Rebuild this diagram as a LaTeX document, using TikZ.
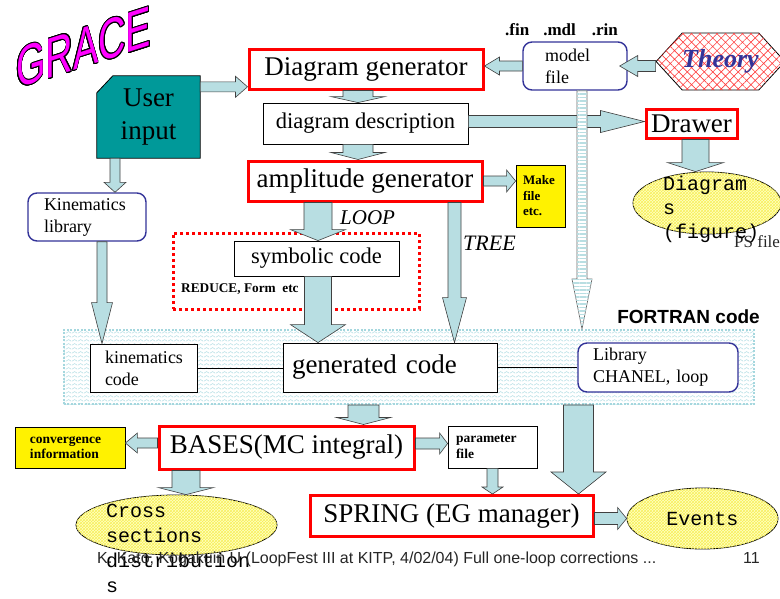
\documentclass[tikz,border=0pt]{standalone}
\usepackage{fontspec}
\setmainfont{Liberation Serif}
\setsansfont{Liberation Sans}
\setmonofont{Liberation Mono}
\usepackage{contour}
\contourlength{0.7pt}
\usetikzlibrary{calc,patterns,patterns.meta,shapes.geometric,shapes.symbols,backgrounds}

\definecolor{arrowblue}{RGB}{184,222,226}
\definecolor{teal2}{RGB}{0,153,153}
\definecolor{navy2}{RGB}{51,51,153}
\definecolor{lyellow}{RGB}{255,255,195}
\definecolor{ygrid}{RGB}{248,240,90}
\definecolor{zigblue}{RGB}{165,215,222}
\definecolor{magenta2}{RGB}{255,0,255}

\pgfdeclarepatternformonly{zigzag}{\pgfqpoint{0pt}{0pt}}{\pgfqpoint{6pt}{4pt}}{\pgfqpoint{6pt}{4pt}}{%
  \pgfsetlinewidth{0.5pt}%
  \pgfpathmoveto{\pgfqpoint{0pt}{1pt}}%
  \pgfpathlineto{\pgfqpoint{3pt}{3pt}}%
  \pgfpathlineto{\pgfqpoint{6pt}{1pt}}%
  \pgfusepath{stroke}}

% block arrow: [opts]{from}{to}{shaft half width}{head half width}{head length}
\newcommand\barrow[6][]{%
  \path[barrowst,#1] let \p1=#2, \p2=#3,
    \n1={atan2(\y2-\y1,\x2-\x1)}, \n2={veclen(\x2-\x1,\y2-\y1)} in
    {[shift={(\p1)},rotate=\n1]
      (0pt,{-#4pt}) -- ({(\n2-#6)*1pt},{-#4pt}) -- ({(\n2-#6)*1pt},{-#5pt})
      -- ({\n2*1pt},0pt) -- ({(\n2-#6)*1pt},{#5pt}) -- ({(\n2-#6)*1pt},{#4pt})
      -- (0pt,{#4pt}) -- cycle};}

\begin{document}
\begin{tikzpicture}[x=1pt,y=-1pt,
  barrowst/.style={fill=arrowblue, draw=black!75, line width=0.6pt},
  redbox/.style={draw=red, line width=3pt, fill=white, inner sep=0pt},
  blkbox/.style={draw=black, line width=0.8pt, fill=white, inner sep=0pt},
  bluebox/.style={draw=navy2, line width=1.4pt, rounded corners=9pt, fill=white, inner sep=0pt},
  ylwbox/.style={draw=black, line width=0.8pt, fill=yellow, inner sep=0pt},
  big/.style={font=\fontsize{27}{30}\selectfont},
  mid/.style={font=\fontsize{22.5}{26}\selectfont},
  smalltxt/.style={font=\fontsize{18}{22}\selectfont},
  tinyb/.style={font=\bfseries\fontsize{13.5}{15.5}\selectfont},
  monotxt/.style={font=\ttfamily\fontsize{20}{24}\selectfont},
  ell/.style={ellipse, draw=black, line width=0.8pt, fill=lyellow,
    postaction={pattern=crosshatch, pattern color=ygrid}, inner sep=0pt},
  lbl/.style={anchor=base west, inner sep=0pt},
  conn/.style={draw=black, line width=0.8pt}]

\begin{scope}[on background layer]
  \fill[white] (0,0) rectangle (780,598);
\end{scope}
\useasboundingbox (0,0) rectangle (780,598);

% GRACE logo
\begin{scope}[shift={(16,89)}, yslant=0.32]
  \node[transform shape, anchor=base west, inner sep=0pt, yscale=1.5,
    font=\sffamily\fontsize{38}{40}\selectfont] (grace) at (0,0)
    {\textcolor{magenta2}{\contour{black}{GRACE}}};
\end{scope}

% FORTRAN region
\node[draw=zigblue, line width=2pt, dash pattern=on 2pt off 1.5pt, fill=white,
  postaction={pattern=zigzag, pattern color=zigblue},
  minimum width=690pt, minimum height=74pt, inner sep=0pt] (ft) at (408.5,367) {};
\node[font=\sffamily\bfseries\fontsize{19}{22}\selectfont, anchor=base east, inner sep=0pt]
  (ftl) at (760,323) {FORTRAN code};

% red dotted loop box
\node[draw=red, line width=3pt, dash pattern=on 3pt off 3pt,
  minimum width=246pt, minimum height=76pt, inner sep=0pt] (lb) at (296,271) {};

% main boxes
\node[redbox, big, minimum width=234pt, minimum height=40pt] (dg) at (366,69) {Diagram generator};
\node[blkbox, mid, minimum width=205pt, minimum height=41pt] (dd) at (365.5,123.5) {diagram description};
\node[redbox, big, minimum width=234pt, minimum height=40pt] (ag) at (365,181) {amplitude generator};

\node[minimum width=103pt, minimum height=82pt, inner sep=0pt, align=center,
  font=\fontsize{27}{33}\selectfont] (ui) at (148.5,117) {User\\input};
\begin{scope}[on background layer]
  \filldraw[fill=teal2, draw=black, line width=0.8pt]
    (ui.south west) -- (ui.south east) -- (ui.north east)
    -- ($(ui.north west)+(16,0)$) -- ($(ui.north west)+(0,17)$) -- cycle;
\end{scope}

\node[bluebox, smalltxt, minimum width=118pt, minimum height=48pt, text width=86pt,
  inner xsep=16pt, align=left] (kl) at (87,217) {Kinematics\\library};
\node[bluebox, smalltxt, minimum width=104pt, minimum height=48pt, text width=60pt,
  inner xsep=22pt, align=left] (mf) at (575,66) {model\\file};
\node[font=\bfseries\fontsize{17}{20}\selectfont, lbl] (ext) at (505,35)
  {.fin\hspace{14pt}.mdl\hspace{16pt}.rin};

\node[signal, signal to=west and east, signal pointer angle=95, draw=black, line width=0.8pt,
  fill=white, postaction={pattern={Hatch[angle=45,distance=6pt,line width=0.6pt]}, pattern color=red!75},
  minimum width=113pt, minimum height=57pt, inner sep=0pt,
  font=\bfseries\itshape\fontsize{26}{30}\selectfont, text=navy2] (th) at (720.5,61.5) {Theory};

\node[redbox, big, minimum width=91pt, minimum height=29pt] (dr) at (691.5,123.5) {Drawer};
\node[ell, minimum width=148pt, minimum height=62pt] (diag) at (707,203) {};
\node[font=\fontsize{17}{20}\selectfont, lbl, text=black!85] (ps) at (734,247) {PS file};
\node[monotxt, lbl, align=left] (diagtxt) at (663,238) {Diagram\\s\\(figure)};

\node[ylwbox, font=\bfseries\fontsize{13}{15.5}\selectfont, minimum width=49pt, minimum height=62pt,
  text width=35pt, inner xsep=7pt, align=left] (mk) at (540.5,196) {Make\\file\\etc.};

\node[lbl, font=\itshape\fontsize{21}{24}\selectfont] (loop) at (340,224) {LOOP};
\node[lbl, font=\itshape\fontsize{22}{24}\selectfont] (tree) at (463,250) {TREE};

\node[blkbox, mid, minimum width=165pt, minimum height=35pt] (sc) at (316.5,258.5) {symbolic code};
\node[lbl, font=\bfseries\fontsize{13.3}{15}\selectfont] (red) at (181,292) {REDUCE, Form\ \ etc};

\node[blkbox, smalltxt, minimum width=107pt, minimum height=48pt, text width=77pt,
  inner xsep=15pt, align=left] (kc) at (143.5,368) {kinematics\\code};
\node[blkbox, big, minimum width=214pt, minimum height=49pt, text width=196pt,
  inner xsep=9pt, align=left] (gc) at (390,367.5) {generated code};
\node[bluebox, smalltxt, minimum width=160pt, minimum height=49pt, text width=130pt,
  inner xsep=15pt, align=left] (lib) at (658,367.5) {Library\\CHANEL, loop};

\node[redbox, big, minimum width=255pt, minimum height=43pt] (bs) at (286.5,447.5) {BASES(MC integral)};
\node[ylwbox, tinyb, minimum width=110pt, minimum height=41pt, text width=80pt,
  inner xsep=15pt, align=left] (cv) at (70,447.5) {convergence\\information};
\node[blkbox, tinyb, minimum width=89pt, minimum height=42pt, text width=73pt,
  inner xsep=8pt, align=left] (pf) at (492.5,447) {parameter\\file};

\node[ell, minimum width=201pt, minimum height=60pt] (cs) at (176.5,525) {};
\node[redbox, big, minimum width=283pt, minimum height=41pt] (sp) at (451.5,516) {SPRING (EG manager)};
\node[ell, monotxt, minimum width=151pt, minimum height=61pt] (ev) at (702.5,518.5) {Events};
\node[lbl, align=left, font=\ttfamily\fontsize{20}{25}\selectfont] (cstxt) at (106,592)
  {Cross\\sections\\distribution\\s};

\node[lbl, font=\sffamily\fontsize{16}{18}\selectfont, text=black!85] (foot) at (97,563)
  {K. Kato, Kogakuin U (LoopFest III at KITP, 4/02/04) Full one-loop corrections ...};
\node[anchor=base east, inner sep=0pt, font=\sffamily\fontsize{16}{18}\selectfont, text=black!85]
  (pg) at (760,563) {11};

% plain connectors
\draw[conn] (kc.east) -- (kc.east -| gc.west);
\draw[conn] (gc.east) -- (gc.east -| lib.west);

% arrow end points
\coordinate (a1s) at ($(ui.north east)+(0,11)$);
\coordinate (a1e) at (a1s -| dg.west);
\coordinate (a2s) at ($(dg.south)+(-8,0)$);
\coordinate (a2e) at (a2s |- dd.north);
\coordinate (a3s) at ($(dd.south)+(-7.5,0)$);
\coordinate (a3e) at (a3s |- ag.north);
\coordinate (a4e) at (mf.west -| dg.east);
\coordinate (a5s) at (th.west |- mf.east);
\coordinate (a5e) at ($(mf.east)+(-8,0)$);
\coordinate (a6s) at ($(dd.east)+(0,-2)$);
\coordinate (a6e) at (a6s -| dr.west);
\coordinate (a7s) at ($(dr.south)+(4,0)$);
\coordinate (a7e) at (a7s |- diag.north);
\coordinate (a8e) at (ag.east -| mk.west);
\coordinate (a9s) at ($(ag.south)+(-47,0)$);
\coordinate (a9e) at (a9s |- sc.north);
\coordinate (a10s) at ($(ag.south)+(89.5,0)$);
\coordinate (a10e) at (a10s |- gc.north);
\coordinate (a11s) at ($(sc.south)+(1.5,0)$);
\coordinate (a11e) at (a11s |- gc.north);
\coordinate (a12s) at ($(kl.south)+(15,0)$);
\coordinate (a12e) at (a12s |- kc.north);
\coordinate (a13s) at ($(ui.south)+(-33.5,0)$);
\coordinate (a13e) at (a13s |- kl.north);
\coordinate (a14s) at ($(mf.south)+(7,0)$);
\coordinate (a14e) at (a14s |- ft.north);
\coordinate (a15e) at ($(bs.north)+(77,0)$);
\coordinate (a15s) at (a15e |- ft.south);
\coordinate (a16e) at ($(sp.north east)+(-16,0)$);
\coordinate (a16s) at (a16e |- ft.south);
\coordinate (a17s) at ($(bs.west)+(0,-4.5)$);
\coordinate (a17e) at (a17s -| cv.east);
\coordinate (a18s) at ($(bs.south)+(-100.5,0)$);
\coordinate (a18e) at (a18s |- cs.north);
\coordinate (a19s) at ($(bs.east)+(0,-4)$);
\coordinate (a19e) at (a19s -| pf.west);
\coordinate (a20e) at (pf.south |- sp.north);
\coordinate (a21s) at (sp.east |- ev.west);

% block arrows
\barrow{(a1s)}{(a1e)}{5}{10.5}{12}
\barrow{(a2s)}{(a2e)}{15}{27}{6}
\barrow{(a3s)}{(a3e)}{15}{27}{7}
\barrow{(mf.west)}{(a4e)}{5}{9}{15}
\barrow{(a5s)}{(a5e)}{5.5}{10.5}{18}
\barrow{(a6s)}{(a6e)}{6}{11}{44}
\barrow{(a7s)}{(a7e)}{13.5}{28}{9}
\barrow{(ag.east)}{(a8e)}{5}{11}{9}
\barrow{(a9s)}{(a9e)}{14}{27.5}{11}
\barrow{(a10s)}{(a10e)}{6.5}{12}{45}
\barrow{(a11s)}{(a11e)}{13.5}{27.5}{18}
\barrow{(a12s)}{(a12e)}{5}{10.5}{41}
\barrow{(a13s)}{(a13e)}{5}{11}{10}
\barrow[fill=white, draw=black!60, postaction={pattern={Lines[angle=0,distance=3.5pt,line width=1.6pt]}, pattern color=arrowblue}]{(a14s)}{(a14e)}{5}{10}{50}
\barrow{(a15s)}{(a15e)}{15.5}{27}{7}
\barrow{(a16s)}{(a16e)}{15}{27.5}{22}
\barrow{(a17s)}{(a17e)}{5}{10}{12}
\barrow{(a18s)}{(a18e)}{14}{27.5}{7}
\barrow{(a19s)}{(a19e)}{5.5}{10.5}{8}
\barrow{(pf.south)}{(a20e)}{5.5}{10.5}{7}
\barrow{(a21s)}{(ev.west)}{6}{11}{9}
\end{tikzpicture}
\end{document}
